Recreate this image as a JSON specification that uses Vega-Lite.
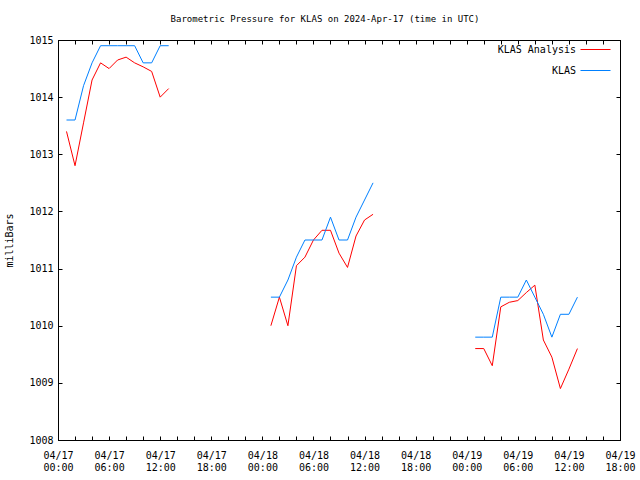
{
  "$schema": "https://vega.github.io/schema/vega-lite/v6.json",
  "autosize": {"type": "none"},
  "width": 562,
  "height": 400,
  "padding": {"left": 58, "top": 40, "right": 20, "bottom": 40},
  "background": "white",
  "config": {
    "view": {"stroke": "black", "strokeWidth": 1},
    "font": "DejaVu Sans Mono",
    "axis": {"grid": false, "domainColor": "black", "tickColor": "black", "labelColor": "black", "titleColor": "black", "labelFont": "DejaVu Sans Mono", "titleFont": "DejaVu Sans Mono", "labelFontSize": 10, "titleFontSize": 10, "titleFontWeight": "normal"}
  },
  "title": {"text": "Barometric Pressure for KLAS on 2024-Apr-17 (time in UTC)", "font": "DejaVu Sans Mono", "fontSize": 9, "fontWeight": "normal", "color": "black", "offset": 6, "dx": -14, "baseline": "middle"},
  "data": {"values": [
    {"t": "2024-04-17T01:00:00Z", "s": "KLAS Analysis", "seg": 1, "v": 1013.4},
    {"t": "2024-04-17T02:00:00Z", "s": "KLAS Analysis", "seg": 1, "v": 1012.8},
    {"t": "2024-04-17T03:00:00Z", "s": "KLAS Analysis", "seg": 1, "v": 1013.55},
    {"t": "2024-04-17T04:00:00Z", "s": "KLAS Analysis", "seg": 1, "v": 1014.3},
    {"t": "2024-04-17T05:00:00Z", "s": "KLAS Analysis", "seg": 1, "v": 1014.6},
    {"t": "2024-04-17T06:00:00Z", "s": "KLAS Analysis", "seg": 1, "v": 1014.5},
    {"t": "2024-04-17T07:00:00Z", "s": "KLAS Analysis", "seg": 1, "v": 1014.65},
    {"t": "2024-04-17T08:00:00Z", "s": "KLAS Analysis", "seg": 1, "v": 1014.7},
    {"t": "2024-04-17T09:00:00Z", "s": "KLAS Analysis", "seg": 1, "v": 1014.6},
    {"t": "2024-04-17T10:00:00Z", "s": "KLAS Analysis", "seg": 1, "v": 1014.53},
    {"t": "2024-04-17T11:00:00Z", "s": "KLAS Analysis", "seg": 1, "v": 1014.45},
    {"t": "2024-04-17T12:00:00Z", "s": "KLAS Analysis", "seg": 1, "v": 1014.0},
    {"t": "2024-04-17T13:00:00Z", "s": "KLAS Analysis", "seg": 1, "v": 1014.15},
    {"t": "2024-04-18T01:00:00Z", "s": "KLAS Analysis", "seg": 2, "v": 1010.0},
    {"t": "2024-04-18T02:00:00Z", "s": "KLAS Analysis", "seg": 2, "v": 1010.5},
    {"t": "2024-04-18T03:00:00Z", "s": "KLAS Analysis", "seg": 2, "v": 1010.0},
    {"t": "2024-04-18T04:00:00Z", "s": "KLAS Analysis", "seg": 2, "v": 1011.05},
    {"t": "2024-04-18T05:00:00Z", "s": "KLAS Analysis", "seg": 2, "v": 1011.2},
    {"t": "2024-04-18T06:00:00Z", "s": "KLAS Analysis", "seg": 2, "v": 1011.5},
    {"t": "2024-04-18T07:00:00Z", "s": "KLAS Analysis", "seg": 2, "v": 1011.67},
    {"t": "2024-04-18T08:00:00Z", "s": "KLAS Analysis", "seg": 2, "v": 1011.67},
    {"t": "2024-04-18T09:00:00Z", "s": "KLAS Analysis", "seg": 2, "v": 1011.27},
    {"t": "2024-04-18T10:00:00Z", "s": "KLAS Analysis", "seg": 2, "v": 1011.02},
    {"t": "2024-04-18T11:00:00Z", "s": "KLAS Analysis", "seg": 2, "v": 1011.57},
    {"t": "2024-04-18T12:00:00Z", "s": "KLAS Analysis", "seg": 2, "v": 1011.85},
    {"t": "2024-04-18T13:00:00Z", "s": "KLAS Analysis", "seg": 2, "v": 1011.95},
    {"t": "2024-04-19T01:00:00Z", "s": "KLAS Analysis", "seg": 3, "v": 1009.6},
    {"t": "2024-04-19T02:00:00Z", "s": "KLAS Analysis", "seg": 3, "v": 1009.6},
    {"t": "2024-04-19T03:00:00Z", "s": "KLAS Analysis", "seg": 3, "v": 1009.3},
    {"t": "2024-04-19T04:00:00Z", "s": "KLAS Analysis", "seg": 3, "v": 1010.33},
    {"t": "2024-04-19T05:00:00Z", "s": "KLAS Analysis", "seg": 3, "v": 1010.41},
    {"t": "2024-04-19T06:00:00Z", "s": "KLAS Analysis", "seg": 3, "v": 1010.44},
    {"t": "2024-04-19T07:00:00Z", "s": "KLAS Analysis", "seg": 3, "v": 1010.58},
    {"t": "2024-04-19T08:00:00Z", "s": "KLAS Analysis", "seg": 3, "v": 1010.71},
    {"t": "2024-04-19T09:00:00Z", "s": "KLAS Analysis", "seg": 3, "v": 1009.75},
    {"t": "2024-04-19T10:00:00Z", "s": "KLAS Analysis", "seg": 3, "v": 1009.45},
    {"t": "2024-04-19T11:00:00Z", "s": "KLAS Analysis", "seg": 3, "v": 1008.9},
    {"t": "2024-04-19T12:00:00Z", "s": "KLAS Analysis", "seg": 3, "v": 1009.24},
    {"t": "2024-04-19T13:00:00Z", "s": "KLAS Analysis", "seg": 3, "v": 1009.6},
    {"t": "2024-04-17T01:00:00Z", "s": "KLAS", "seg": 1, "v": 1013.6},
    {"t": "2024-04-17T02:00:00Z", "s": "KLAS", "seg": 1, "v": 1013.6},
    {"t": "2024-04-17T03:00:00Z", "s": "KLAS", "seg": 1, "v": 1014.2},
    {"t": "2024-04-17T04:00:00Z", "s": "KLAS", "seg": 1, "v": 1014.6},
    {"t": "2024-04-17T05:00:00Z", "s": "KLAS", "seg": 1, "v": 1014.9},
    {"t": "2024-04-17T06:00:00Z", "s": "KLAS", "seg": 1, "v": 1014.9},
    {"t": "2024-04-17T07:00:00Z", "s": "KLAS", "seg": 1, "v": 1014.9},
    {"t": "2024-04-17T08:00:00Z", "s": "KLAS", "seg": 1, "v": 1014.9},
    {"t": "2024-04-17T09:00:00Z", "s": "KLAS", "seg": 1, "v": 1014.9},
    {"t": "2024-04-17T10:00:00Z", "s": "KLAS", "seg": 1, "v": 1014.6},
    {"t": "2024-04-17T11:00:00Z", "s": "KLAS", "seg": 1, "v": 1014.6},
    {"t": "2024-04-17T12:00:00Z", "s": "KLAS", "seg": 1, "v": 1014.9},
    {"t": "2024-04-17T13:00:00Z", "s": "KLAS", "seg": 1, "v": 1014.9},
    {"t": "2024-04-18T01:00:00Z", "s": "KLAS", "seg": 2, "v": 1010.5},
    {"t": "2024-04-18T02:00:00Z", "s": "KLAS", "seg": 2, "v": 1010.5},
    {"t": "2024-04-18T03:00:00Z", "s": "KLAS", "seg": 2, "v": 1010.8},
    {"t": "2024-04-18T04:00:00Z", "s": "KLAS", "seg": 2, "v": 1011.2},
    {"t": "2024-04-18T05:00:00Z", "s": "KLAS", "seg": 2, "v": 1011.5},
    {"t": "2024-04-18T06:00:00Z", "s": "KLAS", "seg": 2, "v": 1011.5},
    {"t": "2024-04-18T07:00:00Z", "s": "KLAS", "seg": 2, "v": 1011.5},
    {"t": "2024-04-18T08:00:00Z", "s": "KLAS", "seg": 2, "v": 1011.9},
    {"t": "2024-04-18T09:00:00Z", "s": "KLAS", "seg": 2, "v": 1011.5},
    {"t": "2024-04-18T10:00:00Z", "s": "KLAS", "seg": 2, "v": 1011.5},
    {"t": "2024-04-18T11:00:00Z", "s": "KLAS", "seg": 2, "v": 1011.9},
    {"t": "2024-04-18T12:00:00Z", "s": "KLAS", "seg": 2, "v": 1012.2},
    {"t": "2024-04-18T13:00:00Z", "s": "KLAS", "seg": 2, "v": 1012.5},
    {"t": "2024-04-19T01:00:00Z", "s": "KLAS", "seg": 3, "v": 1009.8},
    {"t": "2024-04-19T02:00:00Z", "s": "KLAS", "seg": 3, "v": 1009.8},
    {"t": "2024-04-19T03:00:00Z", "s": "KLAS", "seg": 3, "v": 1009.8},
    {"t": "2024-04-19T04:00:00Z", "s": "KLAS", "seg": 3, "v": 1010.5},
    {"t": "2024-04-19T05:00:00Z", "s": "KLAS", "seg": 3, "v": 1010.5},
    {"t": "2024-04-19T06:00:00Z", "s": "KLAS", "seg": 3, "v": 1010.5},
    {"t": "2024-04-19T07:00:00Z", "s": "KLAS", "seg": 3, "v": 1010.8},
    {"t": "2024-04-19T08:00:00Z", "s": "KLAS", "seg": 3, "v": 1010.5},
    {"t": "2024-04-19T09:00:00Z", "s": "KLAS", "seg": 3, "v": 1010.2},
    {"t": "2024-04-19T10:00:00Z", "s": "KLAS", "seg": 3, "v": 1009.8},
    {"t": "2024-04-19T11:00:00Z", "s": "KLAS", "seg": 3, "v": 1010.2},
    {"t": "2024-04-19T12:00:00Z", "s": "KLAS", "seg": 3, "v": 1010.2},
    {"t": "2024-04-19T13:00:00Z", "s": "KLAS", "seg": 3, "v": 1010.5}
  ]},
  "layer": [
    {
      "mark": {"type": "line", "strokeWidth": 1, "clip": true},
      "encoding": {
        "x": {"field": "t", "type": "temporal",
          "scale": {"type": "utc", "domain": [1713312000000, 1713549600000]},
          "axis": {"orient": "bottom", "title": null,
            "values": [1713312000000, 1713319200000, 1713326400000, 1713333600000, 1713340800000, 1713348000000, 1713355200000, 1713362400000, 1713369600000, 1713376800000, 1713384000000, 1713391200000, 1713398400000, 1713405600000, 1713412800000, 1713420000000, 1713427200000, 1713434400000, 1713441600000, 1713448800000, 1713456000000, 1713463200000, 1713470400000, 1713477600000, 1713484800000, 1713492000000, 1713499200000, 1713506400000, 1713513600000, 1713520800000, 1713528000000, 1713535200000, 1713542400000, 1713549600000],
            "tickSize": -4, "labelPadding": 14, "labelLineHeight": 12, "labelOverlap": false, "labelFlush": false, "labelBaseline": "top",
            "labelExpr": "utchours(datum.value) % 6 == 0 ? [utcFormat(datum.value, '%m/%d'), utcFormat(datum.value, '%H:%M')] : ''"}},
        "y": {"field": "v", "type": "quantitative",
          "scale": {"domain": [1008, 1015], "zero": false, "nice": false},
          "axis": {"orient": "left", "title": "milliBars", "values": [1008, 1009, 1010, 1011, 1012, 1013, 1014, 1015], "tickSize": -4, "labelPadding": 9, "format": "d", "titlePadding": 14}},
        "color": {"field": "s", "type": "nominal",
          "scale": {"domain": ["KLAS Analysis", "KLAS"], "range": ["#ff0000", "#0080ff"]},
          "legend": {"orient": "none", "legendX": 522, "legendY": -6, "title": null, "symbolType": "M-1,0H1", "symbolSize": 900, "symbolStrokeWidth": 1, "labelFontSize": 10, "labelFont": "DejaVu Sans Mono", "labelColor": "black", "labelAlign": "right", "labelOffset": -35, "rowPadding": -8, "padding": 0,
            "encode": {"symbols": {"update": {"stroke": [{"test": "datum.value === 'KLAS'", "value": "#0080ff"}, {"value": "#ff0000"}], "fill": {"value": "transparent"}, "opacity": {"value": 1}, "strokeOpacity": {"value": 1}}}}}},
        "detail": {"field": "seg", "type": "nominal"}
      }
    },
    {
      "mark": {"type": "line", "opacity": 0},
      "encoding": {
        "x": {"field": "t", "type": "temporal",
          "axis": {"orient": "top", "title": null,
            "values": [1713312000000, 1713319200000, 1713326400000, 1713333600000, 1713340800000, 1713348000000, 1713355200000, 1713362400000, 1713369600000, 1713376800000, 1713384000000, 1713391200000, 1713398400000, 1713405600000, 1713412800000, 1713420000000, 1713427200000, 1713434400000, 1713441600000, 1713448800000, 1713456000000, 1713463200000, 1713470400000, 1713477600000, 1713484800000, 1713492000000, 1713499200000, 1713506400000, 1713513600000, 1713520800000, 1713528000000, 1713535200000, 1713542400000, 1713549600000],
            "tickSize": -4, "labels": false}},
        "y": {"field": "v", "type": "quantitative",
          "axis": {"orient": "right", "title": null, "values": [1008, 1009, 1010, 1011, 1012, 1013, 1014, 1015], "tickSize": -4, "labels": false}},
        "detail": {"field": "seg", "type": "nominal"}
      }
    }
  ],
  "resolve": {"axis": {"x": "independent", "y": "independent"}}
}
